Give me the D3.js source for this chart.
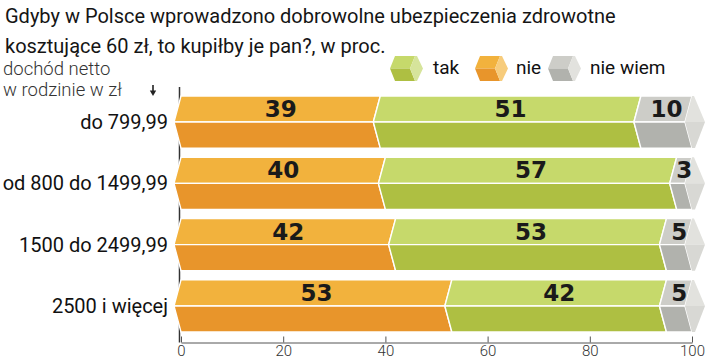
<!DOCTYPE html>
<html><head><meta charset="utf-8">
<script src="https://cdn.jsdelivr.net/npm/d3@7"></script>
<style>
html,body{margin:0;padding:0;background:#fff;}
svg{display:block;font-family:Roboto,"Noto Sans",sans-serif;}
</style></head>
<body>
<svg id="chart" width="720" height="360"></svg>
<script>
// ---- data ----
const categories = ["do 799,99", "od 800 do 1499,99", "1500 do 2499,99", "2500 i więcej"];
const nie = [39, 40, 42, 53];
const tak = [51, 57, 53, 42];
const nieWiem = [10, 3, 5, 5];
const seriesKeys = ["nie", "tak", "nieWiem"];
const legendLabels = ["tak", "nie", "nie wiem"];
const legendKeys = ["tak", "nie", "nieWiem"];
const xTicks = [0, 20, 40, 60, 80, 100];
const titleLines = ["Gdyby w Polsce wprowadzono dobrowolne ubezpieczenia zdrowotne",
                    "kosztujące 60 zł, to kupiłby je pan?, w proc."];
const axisNote = ["dochód netto", "w rodzinie w zł"];

// ---- styles ----
const colors = {
  nie:     {top: "#f2b23d", bot: "#e8952b", cap: "#f7cc7c"},
  tak:     {top: "#c6d96b", bot: "#aebf42", cap: "#d6e49b"},
  nieWiem: {top: "#cdcdc8", bot: "#b1b2ad", cap: "#e2e2de", capBot: "#d8d8d4"}
};

const rows = categories.map((c, i) => ({cat: c, nie: nie[i], tak: tak[i], nieWiem: nieWiem[i]}));
const stacked = d3.stack().keys(seriesKeys)(rows);

const svg = d3.select("#chart");
const x = d3.scaleLinear().domain([0, 100]).range([181, 692]);
const y = d3.scaleBand().domain(categories).range([96, 332]).paddingInner(0.15).paddingOuter(0);
const D = 7; // chevron depth

// title
svg.append("g").selectAll("text").data(titleLines).join("text")
  .attr("x", 5).attr("y", (d, i) => 23 + i * 30)
  .attr("font-size", 20).attr("fill", "#151515").text(d => d);

// axis note
svg.append("g").selectAll("text").data(axisNote).join("text")
  .attr("x", 3).attr("y", (d, i) => 75 + i * 21)
  .attr("font-size", 18.5).attr("font-weight", 300).attr("fill", "#333").text(d => d);
// small arrow
svg.append("path").attr("d", "M153,85V91").attr("stroke", "#222").attr("stroke-width", 1.6);
svg.append("path").attr("d", "M149.8,90.5H156.2L153,96Z").attr("fill", "#222");

// vertical axis line
svg.append("line").attr("x1", 179.5).attr("x2", 179.5).attr("y1", 87).attr("y2", 342.5)
  .attr("stroke", "#333").attr("stroke-width", 1.5);

// bottom axis
const axisG = svg.append("g").attr("transform", "translate(0,342.5)")
  .call(d3.axisBottom(x).tickValues(xTicks).tickSizeInner(-6).tickSizeOuter(0).tickPadding(3));
axisG.select(".domain").attr("stroke", "#555");
axisG.selectAll(".tick line").attr("stroke", "#555");
axisG.selectAll(".tick text").attr("font-family", "Roboto").attr("font-size", 15)
  .attr("font-weight", 300).attr("fill", "#333");

// bars
const barsG = svg.append("g");
stacked.forEach(layer => {
  const key = layer.key;
  layer.forEach(seg => {
    const cat = seg.data.cat;
    const t = y(cat), b = t + y.bandwidth(), m = (t + b) / 2;
    const x0 = x(seg[0]), x1 = x(seg[1]);
    barsG.append("path")
      .attr("d", `M${x0},${t}L${x1},${t}L${x1 - D},${m}L${x0 - D},${m}Z`)
      .attr("fill", colors[key].top).attr("stroke", "#fff").attr("stroke-width", 1.4).attr("stroke-linejoin", "round");
    barsG.append("path")
      .attr("d", `M${x0 - D},${m}L${x1 - D},${m}L${x1},${b}L${x0},${b}Z`)
      .attr("fill", colors[key].bot).attr("stroke", "#fff").attr("stroke-width", 1.4).attr("stroke-linejoin", "round");
  });
});
// end caps
rows.forEach(r => {
  const t = y(r.cat), b = t + y.bandwidth(), m = (t + b) / 2;
  const xe = x(100);
  barsG.append("path")
    .attr("d", `M${xe},${t}L${xe + 2},${t}L${xe + 13},${m}L${xe - D},${m}Z`)
    .attr("fill", colors.nieWiem.cap);
  barsG.append("path")
    .attr("d", `M${xe - D},${m}L${xe + 13},${m}L${xe + 3},${b}L${xe},${b}Z`)
    .attr("fill", colors.nieWiem.capBot);
});

// value labels
const labG = svg.append("g");
stacked.forEach(layer => {
  layer.forEach(seg => {
    const t = y(seg.data.cat), m = t + y.bandwidth() / 2;
    labG.append("text")
      .attr("x", (x(seg[0]) + x(seg[1])) / 2)
      .attr("y", m - 5)
      .attr("text-anchor", "middle")
      .attr("font-family", "DejaVu Sans").attr("font-weight", "bold").attr("font-size", 23)
      .attr("fill", "#1a1a1a")
      .text(seg.data[layer.key]);
  });
});

// category labels
svg.append("g").selectAll("text").data(categories).join("text")
  .attr("x", 168).attr("y", d => y(d) + y.bandwidth() / 2 + 7)
  .attr("text-anchor", "end").attr("font-size", 20).attr("fill", "#111").text(d => d);

// legend
const legendX = [395, 480, 553];
const legendTextX = [433, 516, 590];
const lg = svg.append("g");
legendKeys.forEach((k, i) => {
  const x0 = legendX[i], t = 56, b = 81, m = 68.5, w = 20, d = 5;
  const x1 = x0 + w;
  lg.append("path").attr("d", `M${x0},${t}L${x1},${t}L${x1 - d},${m}L${x0 - d},${m}Z`).attr("fill", colors[k].top);
  lg.append("path").attr("d", `M${x0 - d},${m}L${x1 - d},${m}L${x1},${b}L${x0},${b}Z`).attr("fill", colors[k].bot);
  lg.append("path").attr("d", `M${x1},${t}L${x1 + 2},${t}L${x1 + 8},${m}L${x1 + 2},${b}L${x1},${b}L${x1 - d},${m}Z`).attr("fill", colors[k].cap);
  lg.append("text").attr("x", legendTextX[i]).attr("y", 74).attr("font-size", 19).attr("fill", "#111").text(legendLabels[i]);
});
</script>
</body></html>
